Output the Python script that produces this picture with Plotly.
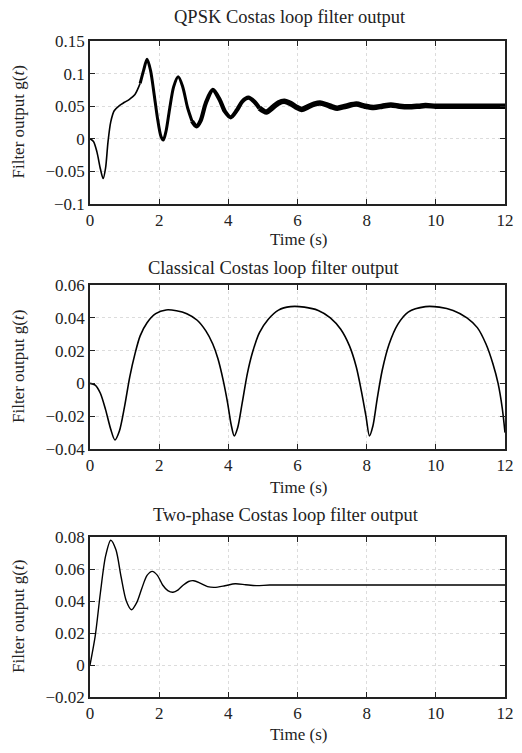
import plotly.graph_objects as go
from plotly.subplots import make_subplots

# QPSK Costas loop filter output (centre of the rippled trace)
t_qpsk = [0, 0.1, 0.2, 0.3, 0.38, 0.45, 0.52, 0.6, 0.7, 0.85, 1.0, 1.15, 1.3, 1.45, 1.55,
          1.65, 1.75, 1.85, 1.95, 2.05, 2.12, 2.2, 2.3, 2.42, 2.55, 2.68, 2.82, 2.95, 3.08,
          3.2, 3.35, 3.55, 3.75, 3.9, 4.07, 4.25, 4.4, 4.58, 4.75, 4.9, 5.1, 5.28, 5.45,
          5.62, 5.8, 5.95, 6.12, 6.3, 6.48, 6.65, 6.85, 7.0, 7.15, 7.4, 7.7, 7.95, 8.2,
          8.45, 8.7, 8.95, 9.2, 9.5, 9.7, 10.0, 10.5, 11.0, 11.5, 12.0]
g_qpsk = [0, -0.004, -0.02, -0.046, -0.061, -0.045, -0.005, 0.026, 0.043, 0.051, 0.056, 0.061,
          0.068, 0.085, 0.105, 0.122, 0.105, 0.07, 0.032, 0.004, -0.002, 0.012, 0.045, 0.08,
          0.095, 0.08, 0.048, 0.027, 0.019, 0.028, 0.055, 0.075, 0.06, 0.042, 0.033, 0.044,
          0.057, 0.063, 0.057, 0.047, 0.041, 0.048, 0.055, 0.0575, 0.054, 0.049, 0.045,
          0.049, 0.053, 0.055, 0.052, 0.049, 0.047, 0.05, 0.0533, 0.05, 0.048, 0.05, 0.052,
          0.05, 0.049, 0.05, 0.051, 0.05, 0.05, 0.05, 0.05, 0.05]

# Classical Costas loop filter output
t_classic = [0, 0.15, 0.3, 0.45, 0.6, 0.72, 0.85, 1.0, 1.15, 1.3, 1.45, 1.65, 1.9, 2.2, 2.5,
             2.8, 3.1, 3.35, 3.55, 3.7, 3.85, 3.98, 4.08, 4.17, 4.27, 4.4, 4.55, 4.7, 4.9,
             5.15, 5.45, 5.8, 6.2, 6.6, 6.95, 7.25, 7.5, 7.7, 7.85, 7.98, 8.08, 8.18, 8.3,
             8.45, 8.65, 8.9, 9.2, 9.7, 10.1, 10.5, 10.9, 11.2, 11.45, 11.65, 11.8, 11.92, 12.0]
g_classic = [0, -0.001, -0.006, -0.016, -0.028, -0.0345, -0.029, -0.014, 0.004, 0.018, 0.029,
             0.037, 0.0425, 0.0448, 0.0443, 0.0425, 0.0385, 0.032, 0.024, 0.015, 0.002, -0.012,
             -0.025, -0.032, -0.027, -0.012, 0.006, 0.019, 0.031, 0.039, 0.0447, 0.0468,
             0.0465, 0.0445, 0.04, 0.033, 0.023, 0.01, -0.005, -0.02, -0.032, -0.026, -0.01,
             0.008, 0.024, 0.036, 0.0435, 0.0468, 0.0465, 0.0445, 0.04, 0.034, 0.024, 0.012,
             0.0, -0.015, -0.03]

# Two-phase Costas loop filter output
t_two = [0, 0.15, 0.3, 0.45, 0.6, 0.75, 0.9, 1.05, 1.2, 1.35, 1.5, 1.65, 1.8, 1.95, 2.1, 2.25,
         2.4, 2.55, 2.7, 2.85, 3.0, 3.2, 3.4, 3.6, 3.9, 4.2, 4.5, 4.8, 5.2, 6.0, 8.0, 10.0, 12.0]
g_two = [0, 0.018, 0.045, 0.068, 0.078, 0.072, 0.055, 0.04, 0.0345, 0.039, 0.048, 0.056,
         0.0585, 0.056, 0.05, 0.0465, 0.0455, 0.047, 0.05, 0.0522, 0.0527, 0.051, 0.049,
         0.0485, 0.0495, 0.0508, 0.0502, 0.0496, 0.05, 0.05, 0.05, 0.05, 0.05]

titles = ["QPSK Costas loop filter output",
          "Classical Costas loop filter output",
          "Two-phase Costas loop filter output"]
y_ranges = [[-0.1, 0.15], [-0.04, 0.06], [-0.02, 0.08]]
y_dticks = [0.05, 0.02, 0.02]

# the page body has an 8px margin all round; size the figure so the page
# fits the window exactly (no scrollbars) and shift reference pixels by OFF
OFF = 8
W, H = 522 - 2 * OFF, 753 - 2 * OFF
FONT = "Liberation Serif"

def px(x):
    return (x - OFF) / W

def py(y):
    return 1 - (y - OFF) / H

# reference pixel boxes of the three panels (top, bottom) and shared left/right
boxes = [(41, 204), (285, 449), (537, 697)]
x_left, x_right = 90, 505
title_y = [17, 268, 515]
xlab_y = [239, 487, 734]
title_x = [290, 274, 286]

fig = make_subplots(rows=3, cols=1)

# QPSK trace gets thicker as the ripple builds up
widths = [(0, 1.45, 1.6), (1.45, 2.95, 3.0), (2.95, 4.9, 4.2), (4.9, 12.0, 5.5)]
for a, b, w in widths:
    xs = [t for t in t_qpsk if a <= t <= b]
    ys = [g for t, g in zip(t_qpsk, g_qpsk) if a <= t <= b]
    fig.add_trace(go.Scatter(x=xs, y=ys, mode="lines",
                             line=dict(color="black", width=w, shape="spline", smoothing=0.8)),
                  row=1, col=1)

fig.add_trace(go.Scatter(x=t_classic, y=g_classic, mode="lines",
                         line=dict(color="black", width=1.6, shape="spline", smoothing=0.8)),
              row=2, col=1)
fig.add_trace(go.Scatter(x=t_two, y=g_two, mode="lines",
                         line=dict(color="black", width=1.4, shape="spline", smoothing=0.8)),
              row=3, col=1)

axis_common = dict(showline=True, linecolor="#222", linewidth=1.6, mirror="ticks",
                   ticks="inside", ticklen=5, tickcolor="#222", tickwidth=1,
                   showgrid=True, gridcolor="#dcdcdc", griddash="dot", gridwidth=1,
                   zeroline=False, automargin=False, ticklabeloverflow="allow",
                   tickfont=dict(family=FONT, size=17, color="#222"))

for i in range(3):
    top, bot = boxes[i]
    n = "" if i == 0 else str(i + 1)
    fig.layout["xaxis" + n].update(domain=[px(x_left), px(x_right)], range=[0, 12],
                                   dtick=2, **axis_common)
    fig.layout["yaxis" + n].update(domain=[py(bot), py(top)], range=y_ranges[i],
                                   dtick=y_dticks[i], **axis_common)
    fig.add_annotation(text=titles[i], x=px(title_x[i]), y=py(title_y[i]),
                       xanchor="center", yanchor="middle",
                       xref="paper", yref="paper", showarrow=False,
                       font=dict(family=FONT, size=18.5, color="#222"))
    fig.add_annotation(text="Time (s)", x=px(298), y=py(xlab_y[i]),
                       xanchor="center", yanchor="middle",
                       xref="paper", yref="paper", showarrow=False,
                       font=dict(family=FONT, size=17, color="#222"))
    fig.add_annotation(text="Filter output g(<i>t</i>)", x=px(18), y=py((top + bot) / 2),
                       xanchor="center", yanchor="middle",
                       xref="paper", yref="paper", showarrow=False, textangle=-90,
                       font=dict(family=FONT, size=17, color="#222"))

fig.update_layout(width=W, height=H, autosize=False, showlegend=False,
                  font=dict(family=FONT, color="#222"),
                  margin=dict(l=0, r=0, t=0, b=0),
                  paper_bgcolor="white", plot_bgcolor="white")

fig.write_html("out.html")
